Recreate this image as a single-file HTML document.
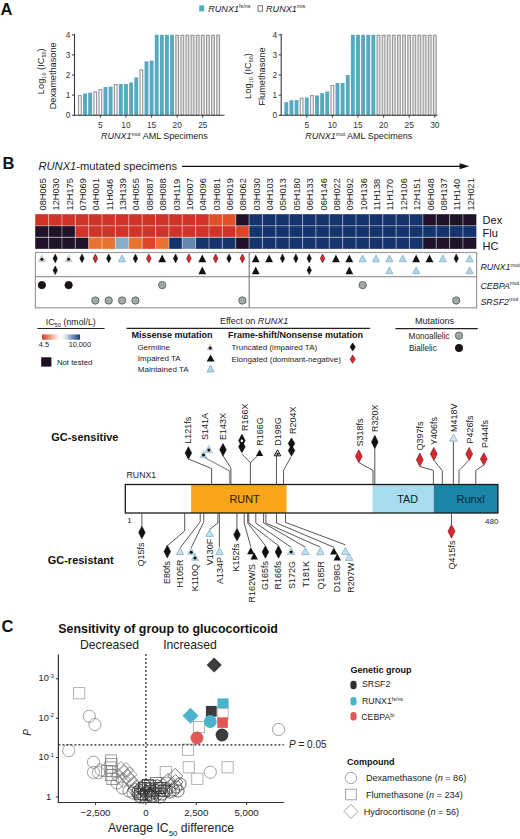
<!DOCTYPE html>
<html><head><meta charset="utf-8"><style>
html,body{margin:0;padding:0;background:#fff;width:520px;height:839px;overflow:hidden}
svg{display:block;font-family:"Liberation Sans", sans-serif}
</style></head><body>
<svg width="520" height="839" viewBox="0 0 520 839">
<text x="0.60" y="14.90" font-size="16.5" text-anchor="start" font-weight="bold" fill="#111">A</text>
<rect x="199.2" y="5.4" width="5.0" height="6.0" fill="#58a9bf"/>
<text x="208.2" y="11.9" font-size="9.1" fill="#222"><tspan font-style="italic">RUNX1</tspan><tspan font-size="5.4" dy="-3.5">fs/ns</tspan></text>
<rect x="258.0" y="5.8" width="4.6" height="5.4" fill="#fff" stroke="#555" stroke-width="0.8"/>
<text x="266.0" y="11.9" font-size="9.1" fill="#222"><tspan font-style="italic">RUNX1</tspan><tspan font-size="5.4" dy="-3.5">mis</tspan></text>
<rect x="78.55" y="95.60" width="2.7" height="19.60" fill="#fff" stroke="#9a9a9a" stroke-width="1.2"/>
<rect x="83.07" y="93.49" width="3.9" height="21.71" fill="#58a9bf"/>
<rect x="88.19" y="92.69" width="3.9" height="22.51" fill="#58a9bf"/>
<rect x="93.91" y="91.98" width="2.7" height="23.22" fill="#fff" stroke="#9a9a9a" stroke-width="1.2"/>
<rect x="99.03" y="89.57" width="2.7" height="25.63" fill="#fff" stroke="#9a9a9a" stroke-width="1.2"/>
<rect x="103.55" y="87.06" width="3.9" height="28.14" fill="#58a9bf"/>
<rect x="108.67" y="86.66" width="3.9" height="28.54" fill="#58a9bf"/>
<rect x="114.39" y="84.55" width="2.7" height="30.66" fill="#fff" stroke="#9a9a9a" stroke-width="1.2"/>
<rect x="118.91" y="84.05" width="3.9" height="31.16" fill="#58a9bf"/>
<rect x="124.03" y="84.05" width="3.9" height="31.16" fill="#58a9bf"/>
<rect x="129.15" y="82.44" width="3.9" height="32.76" fill="#58a9bf"/>
<rect x="134.27" y="77.41" width="3.9" height="37.79" fill="#58a9bf"/>
<rect x="139.99" y="69.87" width="2.7" height="45.33" fill="#fff" stroke="#9a9a9a" stroke-width="1.2"/>
<rect x="144.51" y="61.33" width="3.9" height="53.87" fill="#58a9bf"/>
<rect x="149.63" y="60.53" width="3.9" height="54.67" fill="#58a9bf"/>
<rect x="154.75" y="34.80" width="3.9" height="80.40" fill="#58a9bf"/>
<rect x="159.87" y="34.80" width="3.9" height="80.40" fill="#58a9bf"/>
<rect x="164.99" y="34.80" width="3.9" height="80.40" fill="#58a9bf"/>
<rect x="170.11" y="34.80" width="3.9" height="80.40" fill="#58a9bf"/>
<rect x="175.83" y="35.30" width="2.7" height="79.90" fill="#e4e4e4" stroke="#9a9a9a" stroke-width="1.2"/>
<rect x="180.95" y="35.30" width="2.7" height="79.90" fill="#e4e4e4" stroke="#9a9a9a" stroke-width="1.2"/>
<rect x="186.07" y="35.30" width="2.7" height="79.90" fill="#e4e4e4" stroke="#9a9a9a" stroke-width="1.2"/>
<rect x="191.19" y="35.30" width="2.7" height="79.90" fill="#e4e4e4" stroke="#9a9a9a" stroke-width="1.2"/>
<rect x="196.31" y="35.30" width="2.7" height="79.90" fill="#e4e4e4" stroke="#9a9a9a" stroke-width="1.2"/>
<rect x="201.43" y="35.30" width="2.7" height="79.90" fill="#e4e4e4" stroke="#9a9a9a" stroke-width="1.2"/>
<rect x="206.55" y="35.30" width="2.7" height="79.90" fill="#e4e4e4" stroke="#9a9a9a" stroke-width="1.2"/>
<rect x="211.67" y="35.30" width="2.7" height="79.90" fill="#e4e4e4" stroke="#9a9a9a" stroke-width="1.2"/>
<rect x="216.79" y="35.30" width="2.7" height="79.90" fill="#e4e4e4" stroke="#9a9a9a" stroke-width="1.2"/>
<line x1="74.5" y1="33.8" x2="74.5" y2="115.8" stroke="#3a3a3a" stroke-width="1.1"/>
<line x1="74.0" y1="115.2" x2="224.5" y2="115.2" stroke="#3a3a3a" stroke-width="1.1"/>
<line x1="72.0" y1="115.20" x2="74.5" y2="115.20" stroke="#3a3a3a" stroke-width="1"/>
<text x="70.30" y="118.20" font-size="8.3" text-anchor="end" fill="#333">0</text>
<line x1="72.0" y1="95.10" x2="74.5" y2="95.10" stroke="#3a3a3a" stroke-width="1"/>
<text x="70.30" y="98.10" font-size="8.3" text-anchor="end" fill="#333">1</text>
<line x1="72.0" y1="75.00" x2="74.5" y2="75.00" stroke="#3a3a3a" stroke-width="1"/>
<text x="70.30" y="78.00" font-size="8.3" text-anchor="end" fill="#333">2</text>
<line x1="72.0" y1="54.90" x2="74.5" y2="54.90" stroke="#3a3a3a" stroke-width="1"/>
<text x="70.30" y="57.90" font-size="8.3" text-anchor="end" fill="#333">3</text>
<line x1="72.0" y1="34.80" x2="74.5" y2="34.80" stroke="#3a3a3a" stroke-width="1"/>
<text x="70.30" y="37.80" font-size="8.3" text-anchor="end" fill="#333">4</text>
<line x1="100.38" y1="115.2" x2="100.38" y2="117.7" stroke="#3a3a3a" stroke-width="1"/>
<text x="100.38" y="127.50" font-size="8.3" text-anchor="middle" fill="#333">5</text>
<line x1="125.98" y1="115.2" x2="125.98" y2="117.7" stroke="#3a3a3a" stroke-width="1"/>
<text x="125.98" y="127.50" font-size="8.3" text-anchor="middle" fill="#333">10</text>
<line x1="151.58" y1="115.2" x2="151.58" y2="117.7" stroke="#3a3a3a" stroke-width="1"/>
<text x="151.58" y="127.50" font-size="8.3" text-anchor="middle" fill="#333">15</text>
<line x1="177.18" y1="115.2" x2="177.18" y2="117.7" stroke="#3a3a3a" stroke-width="1"/>
<text x="177.18" y="127.50" font-size="8.3" text-anchor="middle" fill="#333">20</text>
<line x1="202.78" y1="115.2" x2="202.78" y2="117.7" stroke="#3a3a3a" stroke-width="1"/>
<text x="202.78" y="127.50" font-size="8.3" text-anchor="middle" fill="#333">25</text>
<text x="43.80" y="71.20" font-size="9.3" text-anchor="middle" fill="#222" transform="rotate(-90 43.8 71.2)">Log<tspan font-size="5.5" dy="2">10</tspan><tspan dy="-2"> (IC</tspan><tspan font-size="5.5" dy="2">50</tspan><tspan dy="-2">)</tspan></text>
<text x="56.20" y="75.80" font-size="9.2" text-anchor="middle" fill="#222" transform="rotate(-90 56.2 75.8)">Dexamethasone</text>
<text x="154.40" y="139.3" font-size="9" text-anchor="middle" fill="#222"><tspan font-style="italic">RUNX1</tspan><tspan font-size="5.5" dy="-3">mut</tspan><tspan dy="3"> AML Specimens</tspan></text>
<rect x="284.35" y="102.14" width="3.9" height="13.07" fill="#58a9bf"/>
<rect x="289.47" y="100.33" width="3.9" height="14.87" fill="#58a9bf"/>
<rect x="294.59" y="100.12" width="3.9" height="15.08" fill="#58a9bf"/>
<rect x="300.31" y="98.21" width="2.7" height="16.99" fill="#fff" stroke="#9a9a9a" stroke-width="1.2"/>
<rect x="304.83" y="97.51" width="3.9" height="17.69" fill="#58a9bf"/>
<rect x="310.55" y="95.60" width="2.7" height="19.60" fill="#fff" stroke="#9a9a9a" stroke-width="1.2"/>
<rect x="315.07" y="95.50" width="3.9" height="19.70" fill="#58a9bf"/>
<rect x="320.19" y="93.09" width="3.9" height="22.11" fill="#58a9bf"/>
<rect x="325.31" y="91.48" width="3.9" height="23.72" fill="#58a9bf"/>
<rect x="331.03" y="85.55" width="2.7" height="29.65" fill="#fff" stroke="#9a9a9a" stroke-width="1.2"/>
<rect x="335.55" y="83.04" width="3.9" height="32.16" fill="#58a9bf"/>
<rect x="340.67" y="83.04" width="3.9" height="32.16" fill="#58a9bf"/>
<rect x="345.79" y="75.00" width="3.9" height="40.20" fill="#58a9bf"/>
<rect x="350.91" y="34.80" width="3.9" height="80.40" fill="#58a9bf"/>
<rect x="356.03" y="34.80" width="3.9" height="80.40" fill="#58a9bf"/>
<rect x="361.15" y="34.80" width="3.9" height="80.40" fill="#58a9bf"/>
<rect x="366.27" y="34.80" width="3.9" height="80.40" fill="#58a9bf"/>
<rect x="371.39" y="34.80" width="3.9" height="80.40" fill="#58a9bf"/>
<rect x="377.11" y="35.30" width="2.7" height="79.90" fill="#e4e4e4" stroke="#9a9a9a" stroke-width="1.2"/>
<rect x="382.23" y="35.30" width="2.7" height="79.90" fill="#e4e4e4" stroke="#9a9a9a" stroke-width="1.2"/>
<rect x="387.35" y="35.30" width="2.7" height="79.90" fill="#e4e4e4" stroke="#9a9a9a" stroke-width="1.2"/>
<rect x="392.47" y="35.30" width="2.7" height="79.90" fill="#e4e4e4" stroke="#9a9a9a" stroke-width="1.2"/>
<rect x="397.59" y="35.30" width="2.7" height="79.90" fill="#e4e4e4" stroke="#9a9a9a" stroke-width="1.2"/>
<rect x="402.71" y="35.30" width="2.7" height="79.90" fill="#e4e4e4" stroke="#9a9a9a" stroke-width="1.2"/>
<rect x="407.83" y="35.30" width="2.7" height="79.90" fill="#e4e4e4" stroke="#9a9a9a" stroke-width="1.2"/>
<rect x="412.95" y="35.30" width="2.7" height="79.90" fill="#e4e4e4" stroke="#9a9a9a" stroke-width="1.2"/>
<rect x="418.07" y="35.30" width="2.7" height="79.90" fill="#e4e4e4" stroke="#9a9a9a" stroke-width="1.2"/>
<rect x="423.19" y="35.30" width="2.7" height="79.90" fill="#e4e4e4" stroke="#9a9a9a" stroke-width="1.2"/>
<rect x="428.31" y="35.30" width="2.7" height="79.90" fill="#e4e4e4" stroke="#9a9a9a" stroke-width="1.2"/>
<rect x="433.43" y="35.30" width="2.7" height="79.90" fill="#e4e4e4" stroke="#9a9a9a" stroke-width="1.2"/>
<line x1="281.2" y1="33.8" x2="281.2" y2="115.8" stroke="#3a3a3a" stroke-width="1.1"/>
<line x1="280.7" y1="115.2" x2="437.5" y2="115.2" stroke="#3a3a3a" stroke-width="1.1"/>
<line x1="278.7" y1="115.20" x2="281.2" y2="115.20" stroke="#3a3a3a" stroke-width="1"/>
<text x="277.00" y="118.20" font-size="8.3" text-anchor="end" fill="#333">0</text>
<line x1="278.7" y1="95.10" x2="281.2" y2="95.10" stroke="#3a3a3a" stroke-width="1"/>
<text x="277.00" y="98.10" font-size="8.3" text-anchor="end" fill="#333">1</text>
<line x1="278.7" y1="75.00" x2="281.2" y2="75.00" stroke="#3a3a3a" stroke-width="1"/>
<text x="277.00" y="78.00" font-size="8.3" text-anchor="end" fill="#333">2</text>
<line x1="278.7" y1="54.90" x2="281.2" y2="54.90" stroke="#3a3a3a" stroke-width="1"/>
<text x="277.00" y="57.90" font-size="8.3" text-anchor="end" fill="#333">3</text>
<line x1="278.7" y1="34.80" x2="281.2" y2="34.80" stroke="#3a3a3a" stroke-width="1"/>
<text x="277.00" y="37.80" font-size="8.3" text-anchor="end" fill="#333">4</text>
<line x1="306.78" y1="115.2" x2="306.78" y2="117.7" stroke="#3a3a3a" stroke-width="1"/>
<text x="306.78" y="127.50" font-size="8.3" text-anchor="middle" fill="#333">5</text>
<line x1="332.38" y1="115.2" x2="332.38" y2="117.7" stroke="#3a3a3a" stroke-width="1"/>
<text x="332.38" y="127.50" font-size="8.3" text-anchor="middle" fill="#333">10</text>
<line x1="357.98" y1="115.2" x2="357.98" y2="117.7" stroke="#3a3a3a" stroke-width="1"/>
<text x="357.98" y="127.50" font-size="8.3" text-anchor="middle" fill="#333">15</text>
<line x1="383.58" y1="115.2" x2="383.58" y2="117.7" stroke="#3a3a3a" stroke-width="1"/>
<text x="383.58" y="127.50" font-size="8.3" text-anchor="middle" fill="#333">20</text>
<line x1="409.18" y1="115.2" x2="409.18" y2="117.7" stroke="#3a3a3a" stroke-width="1"/>
<text x="409.18" y="127.50" font-size="8.3" text-anchor="middle" fill="#333">25</text>
<line x1="434.78" y1="115.2" x2="434.78" y2="117.7" stroke="#3a3a3a" stroke-width="1"/>
<text x="434.78" y="127.50" font-size="8.3" text-anchor="middle" fill="#333">30</text>
<text x="251.00" y="76.00" font-size="9.3" text-anchor="middle" fill="#222" transform="rotate(-90 251.0 76.0)">Log<tspan font-size="5.5" dy="2">10</tspan><tspan dy="-2"> (IC</tspan><tspan font-size="5.5" dy="2">50</tspan><tspan dy="-2">)</tspan></text>
<text x="264.60" y="76.50" font-size="9.2" text-anchor="middle" fill="#222" transform="rotate(-90 264.6 76.5)">Flumethasone</text>
<text x="358.80" y="139.3" font-size="9" text-anchor="middle" fill="#222"><tspan font-style="italic">RUNX1</tspan><tspan font-size="5.5" dy="-3">mut</tspan><tspan dy="3"> AML Specimens</tspan></text>
<text x="2.40" y="168.60" font-size="16.5" text-anchor="start" font-weight="bold" fill="#111">B</text>
<text x="38.4" y="169.6" font-size="11.2" fill="#222"><tspan font-style="italic">RUNX1</tspan>-mutated specimens</text>
<line x1="182" y1="166.3" x2="462" y2="166.3" stroke="#111" stroke-width="1.2"/>
<path d="M459.6 163.3 L469.2 166.3 L459.6 169.3 Z" fill="#111"/>
<rect x="35.20" y="214.20" width="13.42" height="11.65" fill="#d03428"/>
<rect x="48.57" y="214.20" width="13.42" height="11.65" fill="#d03428"/>
<rect x="61.93" y="214.20" width="13.42" height="11.65" fill="#d03428"/>
<rect x="75.30" y="214.20" width="13.42" height="11.65" fill="#d03428"/>
<rect x="88.67" y="214.20" width="13.42" height="11.65" fill="#d03428"/>
<rect x="102.03" y="214.20" width="13.42" height="11.65" fill="#d03428"/>
<rect x="115.40" y="214.20" width="13.42" height="11.65" fill="#d03428"/>
<rect x="128.77" y="214.20" width="13.42" height="11.65" fill="#d03428"/>
<rect x="142.13" y="214.20" width="13.42" height="11.65" fill="#d03428"/>
<rect x="155.50" y="214.20" width="13.42" height="11.65" fill="#d03428"/>
<rect x="168.87" y="214.20" width="13.42" height="11.65" fill="#d03428"/>
<rect x="182.23" y="214.20" width="13.42" height="11.65" fill="#d03428"/>
<rect x="195.60" y="214.20" width="13.42" height="11.65" fill="#d03428"/>
<rect x="208.97" y="214.20" width="13.42" height="11.65" fill="#e34f2a"/>
<rect x="222.33" y="214.20" width="13.42" height="11.65" fill="#e34f2a"/>
<rect x="235.70" y="214.20" width="13.42" height="11.65" fill="#1f1229"/>
<rect x="249.07" y="214.20" width="13.42" height="11.65" fill="#15346d"/>
<rect x="262.43" y="214.20" width="13.42" height="11.65" fill="#15346d"/>
<rect x="275.80" y="214.20" width="13.42" height="11.65" fill="#15346d"/>
<rect x="289.17" y="214.20" width="13.42" height="11.65" fill="#15346d"/>
<rect x="302.53" y="214.20" width="13.42" height="11.65" fill="#15346d"/>
<rect x="315.90" y="214.20" width="13.42" height="11.65" fill="#15346d"/>
<rect x="329.27" y="214.20" width="13.42" height="11.65" fill="#15346d"/>
<rect x="342.63" y="214.20" width="13.42" height="11.65" fill="#15346d"/>
<rect x="356.00" y="214.20" width="13.42" height="11.65" fill="#15346d"/>
<rect x="369.37" y="214.20" width="13.42" height="11.65" fill="#15346d"/>
<rect x="382.73" y="214.20" width="13.42" height="11.65" fill="#15346d"/>
<rect x="396.10" y="214.20" width="13.42" height="11.65" fill="#15346d"/>
<rect x="409.47" y="214.20" width="13.42" height="11.65" fill="#15346d"/>
<rect x="422.83" y="214.20" width="13.42" height="11.65" fill="#1f1229"/>
<rect x="436.20" y="214.20" width="13.42" height="11.65" fill="#1f1229"/>
<rect x="449.57" y="214.20" width="13.42" height="11.65" fill="#1f1229"/>
<rect x="462.93" y="214.20" width="13.42" height="11.65" fill="#1f1229"/>
<rect x="35.20" y="225.80" width="13.42" height="11.65" fill="#1f1229"/>
<rect x="48.57" y="225.80" width="13.42" height="11.65" fill="#1f1229"/>
<rect x="61.93" y="225.80" width="13.42" height="11.65" fill="#1f1229"/>
<rect x="75.30" y="225.80" width="13.42" height="11.65" fill="#d03428"/>
<rect x="88.67" y="225.80" width="13.42" height="11.65" fill="#d03428"/>
<rect x="102.03" y="225.80" width="13.42" height="11.65" fill="#d03428"/>
<rect x="115.40" y="225.80" width="13.42" height="11.65" fill="#d03428"/>
<rect x="128.77" y="225.80" width="13.42" height="11.65" fill="#d03428"/>
<rect x="142.13" y="225.80" width="13.42" height="11.65" fill="#d03428"/>
<rect x="155.50" y="225.80" width="13.42" height="11.65" fill="#d03428"/>
<rect x="168.87" y="225.80" width="13.42" height="11.65" fill="#d03428"/>
<rect x="182.23" y="225.80" width="13.42" height="11.65" fill="#d03428"/>
<rect x="195.60" y="225.80" width="13.42" height="11.65" fill="#d03428"/>
<rect x="208.97" y="225.80" width="13.42" height="11.65" fill="#d03428"/>
<rect x="222.33" y="225.80" width="13.42" height="11.65" fill="#d03428"/>
<rect x="235.70" y="225.80" width="13.42" height="11.65" fill="#dd4527"/>
<rect x="249.07" y="225.80" width="13.42" height="11.65" fill="#15346d"/>
<rect x="262.43" y="225.80" width="13.42" height="11.65" fill="#15346d"/>
<rect x="275.80" y="225.80" width="13.42" height="11.65" fill="#15346d"/>
<rect x="289.17" y="225.80" width="13.42" height="11.65" fill="#15346d"/>
<rect x="302.53" y="225.80" width="13.42" height="11.65" fill="#15346d"/>
<rect x="315.90" y="225.80" width="13.42" height="11.65" fill="#15346d"/>
<rect x="329.27" y="225.80" width="13.42" height="11.65" fill="#15346d"/>
<rect x="342.63" y="225.80" width="13.42" height="11.65" fill="#15346d"/>
<rect x="356.00" y="225.80" width="13.42" height="11.65" fill="#15346d"/>
<rect x="369.37" y="225.80" width="13.42" height="11.65" fill="#15346d"/>
<rect x="382.73" y="225.80" width="13.42" height="11.65" fill="#15346d"/>
<rect x="396.10" y="225.80" width="13.42" height="11.65" fill="#15346d"/>
<rect x="409.47" y="225.80" width="13.42" height="11.65" fill="#15346d"/>
<rect x="422.83" y="225.80" width="13.42" height="11.65" fill="#15346d"/>
<rect x="436.20" y="225.80" width="13.42" height="11.65" fill="#15346d"/>
<rect x="449.57" y="225.80" width="13.42" height="11.65" fill="#15346d"/>
<rect x="462.93" y="225.80" width="13.42" height="11.65" fill="#15346d"/>
<rect x="35.20" y="237.40" width="13.42" height="11.45" fill="#1f1229"/>
<rect x="48.57" y="237.40" width="13.42" height="11.45" fill="#1f1229"/>
<rect x="61.93" y="237.40" width="13.42" height="11.45" fill="#1f1229"/>
<rect x="75.30" y="237.40" width="13.42" height="11.45" fill="#1f1229"/>
<rect x="88.67" y="237.40" width="13.42" height="11.45" fill="#e8722f"/>
<rect x="102.03" y="237.40" width="13.42" height="11.45" fill="#e8722f"/>
<rect x="115.40" y="237.40" width="13.42" height="11.45" fill="#86aecb"/>
<rect x="128.77" y="237.40" width="13.42" height="11.45" fill="#e8722f"/>
<rect x="142.13" y="237.40" width="13.42" height="11.45" fill="#dd4527"/>
<rect x="155.50" y="237.40" width="13.42" height="11.45" fill="#e8722f"/>
<rect x="168.87" y="237.40" width="13.42" height="11.45" fill="#15346d"/>
<rect x="182.23" y="237.40" width="13.42" height="11.45" fill="#6489b0"/>
<rect x="195.60" y="237.40" width="13.42" height="11.45" fill="#15346d"/>
<rect x="208.97" y="237.40" width="13.42" height="11.45" fill="#15346d"/>
<rect x="222.33" y="237.40" width="13.42" height="11.45" fill="#15346d"/>
<rect x="235.70" y="237.40" width="13.42" height="11.45" fill="#1f1229"/>
<rect x="249.07" y="237.40" width="13.42" height="11.45" fill="#15346d"/>
<rect x="262.43" y="237.40" width="13.42" height="11.45" fill="#15346d"/>
<rect x="275.80" y="237.40" width="13.42" height="11.45" fill="#15346d"/>
<rect x="289.17" y="237.40" width="13.42" height="11.45" fill="#15346d"/>
<rect x="302.53" y="237.40" width="13.42" height="11.45" fill="#15346d"/>
<rect x="315.90" y="237.40" width="13.42" height="11.45" fill="#15346d"/>
<rect x="329.27" y="237.40" width="13.42" height="11.45" fill="#15346d"/>
<rect x="342.63" y="237.40" width="13.42" height="11.45" fill="#15346d"/>
<rect x="356.00" y="237.40" width="13.42" height="11.45" fill="#15346d"/>
<rect x="369.37" y="237.40" width="13.42" height="11.45" fill="#15346d"/>
<rect x="382.73" y="237.40" width="13.42" height="11.45" fill="#15346d"/>
<rect x="396.10" y="237.40" width="13.42" height="11.45" fill="#15346d"/>
<rect x="409.47" y="237.40" width="13.42" height="11.45" fill="#15346d"/>
<rect x="422.83" y="237.40" width="13.42" height="11.45" fill="#1f1229"/>
<rect x="436.20" y="237.40" width="13.42" height="11.45" fill="#1f1229"/>
<rect x="449.57" y="237.40" width="13.42" height="11.45" fill="#1f1229"/>
<rect x="462.93" y="237.40" width="13.42" height="11.45" fill="#1f1229"/>
<line x1="48.57" y1="214.2" x2="48.57" y2="248.8" stroke="#fff" stroke-opacity="0.42" stroke-width="1.1"/>
<line x1="61.93" y1="214.2" x2="61.93" y2="248.8" stroke="#fff" stroke-opacity="0.42" stroke-width="1.1"/>
<line x1="75.30" y1="214.2" x2="75.30" y2="248.8" stroke="#fff" stroke-opacity="0.42" stroke-width="1.1"/>
<line x1="88.67" y1="214.2" x2="88.67" y2="248.8" stroke="#fff" stroke-opacity="0.42" stroke-width="1.1"/>
<line x1="102.03" y1="214.2" x2="102.03" y2="248.8" stroke="#fff" stroke-opacity="0.42" stroke-width="1.1"/>
<line x1="115.40" y1="214.2" x2="115.40" y2="248.8" stroke="#fff" stroke-opacity="0.42" stroke-width="1.1"/>
<line x1="128.77" y1="214.2" x2="128.77" y2="248.8" stroke="#fff" stroke-opacity="0.42" stroke-width="1.1"/>
<line x1="142.13" y1="214.2" x2="142.13" y2="248.8" stroke="#fff" stroke-opacity="0.42" stroke-width="1.1"/>
<line x1="155.50" y1="214.2" x2="155.50" y2="248.8" stroke="#fff" stroke-opacity="0.42" stroke-width="1.1"/>
<line x1="168.87" y1="214.2" x2="168.87" y2="248.8" stroke="#fff" stroke-opacity="0.42" stroke-width="1.1"/>
<line x1="182.23" y1="214.2" x2="182.23" y2="248.8" stroke="#fff" stroke-opacity="0.42" stroke-width="1.1"/>
<line x1="195.60" y1="214.2" x2="195.60" y2="248.8" stroke="#fff" stroke-opacity="0.42" stroke-width="1.1"/>
<line x1="208.97" y1="214.2" x2="208.97" y2="248.8" stroke="#fff" stroke-opacity="0.42" stroke-width="1.1"/>
<line x1="222.33" y1="214.2" x2="222.33" y2="248.8" stroke="#fff" stroke-opacity="0.42" stroke-width="1.1"/>
<line x1="235.70" y1="214.2" x2="235.70" y2="248.8" stroke="#fff" stroke-opacity="0.42" stroke-width="1.1"/>
<line x1="249.07" y1="214.2" x2="249.07" y2="248.8" stroke="#fff" stroke-opacity="0.42" stroke-width="1.1"/>
<line x1="262.43" y1="214.2" x2="262.43" y2="248.8" stroke="#fff" stroke-opacity="0.42" stroke-width="1.1"/>
<line x1="275.80" y1="214.2" x2="275.80" y2="248.8" stroke="#fff" stroke-opacity="0.42" stroke-width="1.1"/>
<line x1="289.17" y1="214.2" x2="289.17" y2="248.8" stroke="#fff" stroke-opacity="0.42" stroke-width="1.1"/>
<line x1="302.53" y1="214.2" x2="302.53" y2="248.8" stroke="#fff" stroke-opacity="0.42" stroke-width="1.1"/>
<line x1="315.90" y1="214.2" x2="315.90" y2="248.8" stroke="#fff" stroke-opacity="0.42" stroke-width="1.1"/>
<line x1="329.27" y1="214.2" x2="329.27" y2="248.8" stroke="#fff" stroke-opacity="0.42" stroke-width="1.1"/>
<line x1="342.63" y1="214.2" x2="342.63" y2="248.8" stroke="#fff" stroke-opacity="0.42" stroke-width="1.1"/>
<line x1="356.00" y1="214.2" x2="356.00" y2="248.8" stroke="#fff" stroke-opacity="0.42" stroke-width="1.1"/>
<line x1="369.37" y1="214.2" x2="369.37" y2="248.8" stroke="#fff" stroke-opacity="0.42" stroke-width="1.1"/>
<line x1="382.73" y1="214.2" x2="382.73" y2="248.8" stroke="#fff" stroke-opacity="0.42" stroke-width="1.1"/>
<line x1="396.10" y1="214.2" x2="396.10" y2="248.8" stroke="#fff" stroke-opacity="0.42" stroke-width="1.1"/>
<line x1="409.47" y1="214.2" x2="409.47" y2="248.8" stroke="#fff" stroke-opacity="0.42" stroke-width="1.1"/>
<line x1="422.83" y1="214.2" x2="422.83" y2="248.8" stroke="#fff" stroke-opacity="0.42" stroke-width="1.1"/>
<line x1="436.20" y1="214.2" x2="436.20" y2="248.8" stroke="#fff" stroke-opacity="0.42" stroke-width="1.1"/>
<line x1="449.57" y1="214.2" x2="449.57" y2="248.8" stroke="#fff" stroke-opacity="0.42" stroke-width="1.1"/>
<line x1="462.93" y1="214.2" x2="462.93" y2="248.8" stroke="#fff" stroke-opacity="0.42" stroke-width="1.1"/>
<line x1="35.2" y1="225.8" x2="476.30" y2="225.8" stroke="#fff" stroke-opacity="0.42" stroke-width="1.1"/>
<line x1="35.2" y1="237.4" x2="476.30" y2="237.4" stroke="#fff" stroke-opacity="0.42" stroke-width="1.1"/>
<text x="45.88" y="210.40" font-size="9.2" text-anchor="start" fill="#222" transform="rotate(-90 45.88333333333334 210.4)">08H065</text>
<text x="59.25" y="210.40" font-size="9.2" text-anchor="start" fill="#222" transform="rotate(-90 59.25 210.4)">12H030</text>
<text x="72.62" y="210.40" font-size="9.2" text-anchor="start" fill="#222" transform="rotate(-90 72.61666666666667 210.4)">12H175</text>
<text x="85.98" y="210.40" font-size="9.2" text-anchor="start" fill="#222" transform="rotate(-90 85.98333333333333 210.4)">07H069</text>
<text x="99.35" y="210.40" font-size="9.2" text-anchor="start" fill="#222" transform="rotate(-90 99.35000000000001 210.4)">04H001</text>
<text x="112.72" y="210.40" font-size="9.2" text-anchor="start" fill="#222" transform="rotate(-90 112.71666666666667 210.4)">11H046</text>
<text x="126.08" y="210.40" font-size="9.2" text-anchor="start" fill="#222" transform="rotate(-90 126.08333333333334 210.4)">13H139</text>
<text x="139.45" y="210.40" font-size="9.2" text-anchor="start" fill="#222" transform="rotate(-90 139.45 210.4)">04H055</text>
<text x="152.82" y="210.40" font-size="9.2" text-anchor="start" fill="#222" transform="rotate(-90 152.81666666666666 210.4)">08H087</text>
<text x="166.18" y="210.40" font-size="9.2" text-anchor="start" fill="#222" transform="rotate(-90 166.18333333333334 210.4)">08H088</text>
<text x="179.55" y="210.40" font-size="9.2" text-anchor="start" fill="#222" transform="rotate(-90 179.55 210.4)">03H119</text>
<text x="192.92" y="210.40" font-size="9.2" text-anchor="start" fill="#222" transform="rotate(-90 192.91666666666669 210.4)">10H007</text>
<text x="206.28" y="210.40" font-size="9.2" text-anchor="start" fill="#222" transform="rotate(-90 206.28333333333336 210.4)">04H096</text>
<text x="219.65" y="210.40" font-size="9.2" text-anchor="start" fill="#222" transform="rotate(-90 219.65000000000003 210.4)">03H081</text>
<text x="233.02" y="210.40" font-size="9.2" text-anchor="start" fill="#222" transform="rotate(-90 233.01666666666665 210.4)">06H019</text>
<text x="246.38" y="210.40" font-size="9.2" text-anchor="start" fill="#222" transform="rotate(-90 246.38333333333333 210.4)">08H062</text>
<text x="259.75" y="210.40" font-size="9.2" text-anchor="start" fill="#222" transform="rotate(-90 259.75 210.4)">03H030</text>
<text x="273.12" y="210.40" font-size="9.2" text-anchor="start" fill="#222" transform="rotate(-90 273.1166666666667 210.4)">04H103</text>
<text x="286.48" y="210.40" font-size="9.2" text-anchor="start" fill="#222" transform="rotate(-90 286.48333333333335 210.4)">05H013</text>
<text x="299.85" y="210.40" font-size="9.2" text-anchor="start" fill="#222" transform="rotate(-90 299.85 210.4)">05H180</text>
<text x="313.22" y="210.40" font-size="9.2" text-anchor="start" fill="#222" transform="rotate(-90 313.21666666666664 210.4)">06H133</text>
<text x="326.58" y="210.40" font-size="9.2" text-anchor="start" fill="#222" transform="rotate(-90 326.5833333333333 210.4)">06H146</text>
<text x="339.95" y="210.40" font-size="9.2" text-anchor="start" fill="#222" transform="rotate(-90 339.95 210.4)">08H022</text>
<text x="353.32" y="210.40" font-size="9.2" text-anchor="start" fill="#222" transform="rotate(-90 353.31666666666666 210.4)">09H092</text>
<text x="366.68" y="210.40" font-size="9.2" text-anchor="start" fill="#222" transform="rotate(-90 366.68333333333334 210.4)">10H136</text>
<text x="380.05" y="210.40" font-size="9.2" text-anchor="start" fill="#222" transform="rotate(-90 380.05 210.4)">11H138</text>
<text x="393.42" y="210.40" font-size="9.2" text-anchor="start" fill="#222" transform="rotate(-90 393.4166666666667 210.4)">11H170</text>
<text x="406.78" y="210.40" font-size="9.2" text-anchor="start" fill="#222" transform="rotate(-90 406.78333333333336 210.4)">12H106</text>
<text x="420.15" y="210.40" font-size="9.2" text-anchor="start" fill="#222" transform="rotate(-90 420.15 210.4)">12H151</text>
<text x="433.52" y="210.40" font-size="9.2" text-anchor="start" fill="#222" transform="rotate(-90 433.51666666666665 210.4)">06H048</text>
<text x="446.88" y="210.40" font-size="9.2" text-anchor="start" fill="#222" transform="rotate(-90 446.8833333333333 210.4)">08H137</text>
<text x="460.25" y="210.40" font-size="9.2" text-anchor="start" fill="#222" transform="rotate(-90 460.25 210.4)">11H140</text>
<text x="473.62" y="210.40" font-size="9.2" text-anchor="start" fill="#222" transform="rotate(-90 473.6166666666667 210.4)">12H021</text>
<text x="482.60" y="223.60" font-size="11" text-anchor="start" fill="#111">Dex</text>
<text x="482.60" y="237.30" font-size="11" text-anchor="start" fill="#111">Flu</text>
<text x="482.60" y="249.50" font-size="11" text-anchor="start" fill="#111">HC</text>
<rect x="35.4" y="252.5" width="441.20000000000005" height="55.3" fill="none" stroke="#9a9a9a" stroke-width="1.2"/>
<line x1="35.4" y1="276.7" x2="476.6" y2="276.7" stroke="#9a9a9a" stroke-width="1.3"/>
<line x1="249.2" y1="252.8" x2="249.2" y2="307.8" stroke="#777" stroke-width="1.1"/>
<path d="M41.88 255.15 L45.13 261.65 L38.63 261.65 Z" fill="#e8e8e8" stroke="#aaa" stroke-width="0.7"/>
<circle cx="41.88" cy="259.30" r="1.5" fill="#111"/>
<path d="M55.25 254.10 L57.35 258.40 L55.25 262.70 L53.15 258.40 Z" fill="#111" stroke="#111" stroke-width="0.6"/>
<path d="M68.62 255.15 L71.87 261.65 L65.37 261.65 Z" fill="#e8e8e8" stroke="#aaa" stroke-width="0.7"/>
<circle cx="68.62" cy="259.30" r="1.5" fill="#111"/>
<path d="M81.98 254.10 L84.08 258.40 L81.98 262.70 L79.88 258.40 Z" fill="#111" stroke="#111" stroke-width="0.6"/>
<path d="M95.35 254.00 L97.65 258.40 L95.35 262.80 L93.05 258.40 Z" fill="#d9262f" stroke="#5a1010" stroke-width="0.6"/>
<path d="M108.72 254.10 L110.82 258.40 L108.72 262.70 L106.62 258.40 Z" fill="#111" stroke="#111" stroke-width="0.6"/>
<path d="M122.08 255.00 L125.68 261.80 L118.48 261.80 Z" fill="#b3d5e6" stroke="#7fb0c8" stroke-width="0.8"/>
<path d="M135.45 254.10 L137.55 258.40 L135.45 262.70 L133.35 258.40 Z" fill="#111" stroke="#111" stroke-width="0.6"/>
<path d="M148.82 254.00 L151.12 258.40 L148.82 262.80 L146.52 258.40 Z" fill="#d9262f" stroke="#5a1010" stroke-width="0.6"/>
<path d="M162.18 254.55 L166.08 262.25 L158.28 262.25 Z" fill="#111"/>
<path d="M175.55 254.10 L177.65 258.40 L175.55 262.70 L173.45 258.40 Z" fill="#111" stroke="#111" stroke-width="0.6"/>
<path d="M188.92 254.00 L191.22 258.40 L188.92 262.80 L186.62 258.40 Z" fill="#d9262f" stroke="#5a1010" stroke-width="0.6"/>
<path d="M202.28 254.55 L206.18 262.25 L198.38 262.25 Z" fill="#111"/>
<path d="M215.65 254.00 L217.95 258.40 L215.65 262.80 L213.35 258.40 Z" fill="#d9262f" stroke="#5a1010" stroke-width="0.6"/>
<path d="M229.02 254.10 L231.12 258.40 L229.02 262.70 L226.92 258.40 Z" fill="#111" stroke="#111" stroke-width="0.6"/>
<path d="M242.38 254.00 L244.68 258.40 L242.38 262.80 L240.08 258.40 Z" fill="#d9262f" stroke="#5a1010" stroke-width="0.6"/>
<path d="M255.75 254.55 L259.65 262.25 L251.85 262.25 Z" fill="#111"/>
<path d="M269.12 254.55 L273.02 262.25 L265.22 262.25 Z" fill="#111"/>
<path d="M282.48 254.10 L284.58 258.40 L282.48 262.70 L280.38 258.40 Z" fill="#111" stroke="#111" stroke-width="0.6"/>
<path d="M295.85 254.10 L297.95 258.40 L295.85 262.70 L293.75 258.40 Z" fill="#111" stroke="#111" stroke-width="0.6"/>
<path d="M309.22 254.10 L311.32 258.40 L309.22 262.70 L307.12 258.40 Z" fill="#111" stroke="#111" stroke-width="0.6"/>
<path d="M322.58 254.00 L324.88 258.40 L322.58 262.80 L320.28 258.40 Z" fill="#d9262f" stroke="#5a1010" stroke-width="0.6"/>
<path d="M335.95 254.55 L339.85 262.25 L332.05 262.25 Z" fill="#111"/>
<path d="M349.32 254.55 L353.22 262.25 L345.42 262.25 Z" fill="#111"/>
<path d="M362.68 255.00 L366.28 261.80 L359.08 261.80 Z" fill="#b3d5e6" stroke="#7fb0c8" stroke-width="0.8"/>
<path d="M376.05 255.00 L379.65 261.80 L372.45 261.80 Z" fill="#b3d5e6" stroke="#7fb0c8" stroke-width="0.8"/>
<path d="M389.42 255.00 L393.02 261.80 L385.82 261.80 Z" fill="#b3d5e6" stroke="#7fb0c8" stroke-width="0.8"/>
<path d="M402.78 255.00 L406.38 261.80 L399.18 261.80 Z" fill="#b3d5e6" stroke="#7fb0c8" stroke-width="0.8"/>
<path d="M416.15 254.55 L420.05 262.25 L412.25 262.25 Z" fill="#111"/>
<path d="M429.52 254.55 L433.42 262.25 L425.62 262.25 Z" fill="#111"/>
<path d="M442.88 255.00 L446.48 261.80 L439.28 261.80 Z" fill="#b3d5e6" stroke="#7fb0c8" stroke-width="0.8"/>
<path d="M456.25 254.10 L458.35 258.40 L456.25 262.70 L454.15 258.40 Z" fill="#111" stroke="#111" stroke-width="0.6"/>
<path d="M469.62 255.00 L473.22 261.80 L466.02 261.80 Z" fill="#b3d5e6" stroke="#7fb0c8" stroke-width="0.8"/>
<path d="M55.25 266.00 L57.35 270.30 L55.25 274.60 L53.15 270.30 Z" fill="#111" stroke="#111" stroke-width="0.6"/>
<path d="M202.28 266.45 L206.18 274.15 L198.38 274.15 Z" fill="#111"/>
<path d="M255.75 266.45 L259.65 274.15 L251.85 274.15 Z" fill="#111"/>
<path d="M309.22 266.00 L311.32 270.30 L309.22 274.60 L307.12 270.30 Z" fill="#111" stroke="#111" stroke-width="0.6"/>
<path d="M349.32 266.45 L353.22 274.15 L345.42 274.15 Z" fill="#111"/>
<path d="M389.42 266.90 L393.02 273.70 L385.82 273.70 Z" fill="#b3d5e6" stroke="#7fb0c8" stroke-width="0.8"/>
<path d="M416.15 266.90 L419.75 273.70 L412.55 273.70 Z" fill="#b3d5e6" stroke="#7fb0c8" stroke-width="0.8"/>
<path d="M469.62 266.90 L473.22 273.70 L466.02 273.70 Z" fill="#b3d5e6" stroke="#7fb0c8" stroke-width="0.8"/>
<circle cx="41.88" cy="285.10" r="3.7" fill="#1a1218" stroke="#111" stroke-width="0.8"/>
<circle cx="68.62" cy="285.10" r="3.7" fill="#1a1218" stroke="#111" stroke-width="0.8"/>
<circle cx="162.18" cy="285.10" r="3.7" fill="#9eaaa6" stroke="#555" stroke-width="0.8"/>
<circle cx="362.68" cy="285.10" r="3.7" fill="#9eaaa6" stroke="#555" stroke-width="0.8"/>
<circle cx="95.35" cy="300.50" r="3.7" fill="#9eaaa6" stroke="#555" stroke-width="0.8"/>
<circle cx="108.72" cy="300.50" r="3.7" fill="#9eaaa6" stroke="#555" stroke-width="0.8"/>
<circle cx="122.08" cy="300.50" r="3.7" fill="#9eaaa6" stroke="#555" stroke-width="0.8"/>
<circle cx="135.45" cy="300.50" r="3.7" fill="#9eaaa6" stroke="#555" stroke-width="0.8"/>
<circle cx="242.38" cy="300.50" r="3.7" fill="#9eaaa6" stroke="#555" stroke-width="0.8"/>
<circle cx="456.25" cy="300.50" r="3.7" fill="#9eaaa6" stroke="#555" stroke-width="0.8"/>
<text x="480.4" y="270.3" font-size="8.9" font-style="italic" fill="#222">RUNX1<tspan font-size="5.6" dy="-3.6" font-style="normal">mut</tspan></text>
<text x="480.4" y="288.6" font-size="8.9" font-style="italic" fill="#222">CEBPA<tspan font-size="5.6" dy="-3.6" font-style="normal">mut</tspan></text>
<text x="480.4" y="304.6" font-size="8.9" font-style="italic" fill="#222">SRSF2<tspan font-size="5.6" dy="-3.6" font-style="normal">mut</tspan></text>
<text x="70.8" y="324.6" font-size="8.8" text-anchor="middle" fill="#222">IC<tspan font-size="5.8" dy="2.2">50</tspan><tspan dy="-2.2"> (nmol/L)</tspan></text>
<line x1="37.4" y1="328.5" x2="104.6" y2="328.5" stroke="#222" stroke-width="1.2"/>
<defs><linearGradient id="g1" x1="0" x2="1" y1="0" y2="0"><stop offset="0" stop-color="#d33a22"/><stop offset="0.18" stop-color="#ea8a70"/><stop offset="0.4" stop-color="#fde6dc"/><stop offset="0.5" stop-color="#ffffff"/><stop offset="0.62" stop-color="#d9e4f0"/><stop offset="0.8" stop-color="#6f91bd"/><stop offset="1" stop-color="#1a3f78"/></linearGradient></defs>
<rect x="42" y="334.4" width="38" height="5.3" fill="url(#g1)"/>
<text x="38.80" y="347.40" font-size="7.3" text-anchor="start" fill="#222">4.5</text>
<text x="91.00" y="347.40" font-size="7.3" text-anchor="end" fill="#222">10,000</text>
<rect x="41.2" y="357.3" width="10.2" height="9.3" fill="#1e1020"/>
<text x="56.90" y="364.90" font-size="7.8" text-anchor="start" fill="#222">Not tested</text>
<text x="220" y="324.2" font-size="9" fill="#222">Effect on <tspan font-style="italic">RUNX1</tspan></text>
<line x1="126.5" y1="328.4" x2="370" y2="328.4" stroke="#222" stroke-width="1.2"/>
<text x="131.50" y="337.90" font-size="9" text-anchor="start" font-weight="bold" fill="#111">Missense mutation</text>
<text x="228.00" y="337.90" font-size="9" text-anchor="start" font-weight="bold" fill="#111">Frame-shift/Nonsense mutation</text>
<text x="137.40" y="350.00" font-size="8" text-anchor="start" fill="#222">Germline</text>
<text x="137.80" y="361.20" font-size="8" text-anchor="start" fill="#222">Impaired TA</text>
<text x="137.80" y="371.80" font-size="8" text-anchor="start" fill="#222">Maintained TA</text>
<text x="231.50" y="350.00" font-size="8" text-anchor="start" fill="#222">Truncated (impaired TA)</text>
<text x="231.50" y="362.20" font-size="8" text-anchor="start" fill="#222">Elongated (dominant-negative)</text>
<path d="M210.20 344.45 L212.95 349.95 L207.45 349.95 Z" fill="#e8e8e8" stroke="#aaa" stroke-width="0.7"/>
<circle cx="210.20" cy="348.10" r="1.5" fill="#111"/>
<path d="M210.60 354.40 L214.55 361.60 L206.65 361.60 Z" fill="#111"/>
<path d="M210.60 365.20 L214.20 372.00 L207.00 372.00 Z" fill="#b3d5e6" stroke="#7fb0c8" stroke-width="0.8"/>
<path d="M352.70 342.90 L355.30 347.00 L352.70 351.10 L350.10 347.00 Z" fill="#111" stroke="#111" stroke-width="0.6"/>
<path d="M352.70 355.10 L355.30 359.20 L352.70 363.30 L350.10 359.20 Z" fill="#d9262f" stroke="#5a1010" stroke-width="0.6"/>
<text x="434.50" y="324.30" font-size="9" text-anchor="middle" fill="#222">Mutations</text>
<line x1="395.4" y1="328.6" x2="477.8" y2="328.6" stroke="#222" stroke-width="1.2"/>
<text x="408.60" y="338.70" font-size="8.2" text-anchor="start" fill="#222">Monoallelic</text>
<text x="409.00" y="351.00" font-size="8.2" text-anchor="start" fill="#222">Biallelic</text>
<circle cx="459.00" cy="335.70" r="3.7" fill="#9eaaa6" stroke="#555" stroke-width="0.8"/>
<circle cx="459.00" cy="348.00" r="3.7" fill="#1a1218" stroke="#111" stroke-width="0.8"/>
<text x="51.20" y="440.60" font-size="11" text-anchor="start" font-weight="bold" fill="#111">GC-sensitive</text>
<text x="47.70" y="563.80" font-size="11" text-anchor="start" font-weight="bold" fill="#111">GC-resistant</text>
<text x="126.60" y="478.10" font-size="8.7" text-anchor="start" fill="#222">RUNX1</text>
<rect x="125.3" y="484.5" width="372.6" height="28.5" fill="#fff"/>
<rect x="191.1" y="484.5" width="95.4" height="28.5" fill="#f8a51b"/>
<rect x="372.6" y="484.5" width="61.2" height="28.5" fill="#a9dbee"/>
<rect x="433.8" y="484.5" width="64.1" height="28.5" fill="#1a85a6"/>
<rect x="125.3" y="484.5" width="372.6" height="28.5" fill="none" stroke="#1a1a1a" stroke-width="1.3"/>
<text x="244.60" y="502.90" font-size="10.9" text-anchor="middle" fill="#2a1800">RUNT</text>
<text x="407.70" y="502.90" font-size="10.8" text-anchor="middle" fill="#111a22">TAD</text>
<text x="470.60" y="502.90" font-size="11" text-anchor="middle" fill="#082838">Runxl</text>
<text x="127.30" y="523.30" font-size="8" text-anchor="start" fill="#222">1</text>
<text x="498.40" y="524.20" font-size="8" text-anchor="end" fill="#222">480</text>
<path d="M188.40 459.00 L211.60 468.50 L211.60 484.50" fill="none" stroke="#444" stroke-width="0.9"/>
<path d="M203.50 457.00 L229.60 471.00 L229.60 484.50" fill="none" stroke="#999" stroke-width="1.4"/>
<path d="M223.00 455.70 L230.90 468.00 L230.90 484.50" fill="none" stroke="#444" stroke-width="0.9"/>
<path d="M241.90 454.00 L250.40 462.70 L250.40 484.50" fill="none" stroke="#444" stroke-width="0.9"/>
<path d="M257.50 455.80 L250.40 462.70" fill="none" stroke="#444" stroke-width="0.9"/>
<path d="M276.50 456.00 L276.50 484.50" fill="none" stroke="#444" stroke-width="0.9"/>
<path d="M291.20 456.50 L283.50 470.40 L283.50 484.50" fill="none" stroke="#444" stroke-width="0.9"/>
<path d="M359.00 462.70 L373.00 470.40 L373.00 484.50" fill="none" stroke="#444" stroke-width="0.9"/>
<path d="M374.80 448.80 L374.80 484.50" fill="none" stroke="#444" stroke-width="0.9"/>
<path d="M420.00 466.50 L433.40 470.40 L433.40 484.50" fill="none" stroke="#444" stroke-width="0.9"/>
<path d="M434.00 460.40 L442.30 470.70 L442.30 484.50" fill="none" stroke="#444" stroke-width="0.9"/>
<path d="M453.40 441.00 L453.40 484.50" fill="none" stroke="#444" stroke-width="0.9"/>
<path d="M469.00 460.40 L459.00 470.40 L459.00 484.50" fill="none" stroke="#444" stroke-width="0.9"/>
<path d="M483.80 465.00 L475.80 470.40 L475.80 484.50" fill="none" stroke="#444" stroke-width="0.9"/>
<path d="M188.40 446.75 L191.70 453.00 L188.40 459.25 L185.10 453.00 Z" fill="#111" stroke="#111" stroke-width="0.6"/>
<path d="M208.80 445.50 L212.30 452.50 L205.30 452.50 Z" fill="#c6dfeb" stroke="#8fb8cc" stroke-width="0.7"/>
<circle cx="208.80" cy="449.90" r="1.5" fill="#111"/>
<path d="M203.50 450.70 L207.00 457.70 L200.00 457.70 Z" fill="#c6dfeb" stroke="#8fb8cc" stroke-width="0.7"/>
<circle cx="203.50" cy="455.10" r="1.5" fill="#111"/>
<path d="M223.00 443.55 L226.30 449.80 L223.00 456.05 L219.70 449.80 Z" fill="#111" stroke="#111" stroke-width="0.6"/>
<path d="M241.90 440.80 L245.20 446.80 L241.90 452.80 L238.60 446.80 Z" fill="#111" stroke="#111" stroke-width="0.6"/>
<path d="M241.90 434.25 L245.20 440.50 L241.90 446.75 L238.60 440.50 Z" fill="#111" stroke="#111" stroke-width="0.6"/>
<circle cx="241.9" cy="440.7" r="1.3" fill="#fff"/>
<path d="M259.60 449.50 L263.20 455.90 L256.00 455.90 Z" fill="#111"/>
<path d="M277.50 449.80 L280.80 455.80 L274.20 455.80 Z" fill="#fff" stroke="#111" stroke-width="1.0"/>
<circle cx="277.5" cy="454" r="1.2" fill="#111"/>
<path d="M291.50 438.00 L294.80 443.50 L291.50 449.00 L288.20 443.50 Z" fill="#111" stroke="#111" stroke-width="0.6"/>
<path d="M291.50 445.00 L294.80 450.50 L291.50 456.00 L288.20 450.50 Z" fill="#111" stroke="#111" stroke-width="0.6"/>
<path d="M358.80 449.70 L362.20 456.20 L358.80 462.70 L355.40 456.20 Z" fill="#d9262f" stroke="#6a1515" stroke-width="0.6"/>
<path d="M374.80 435.25 L378.10 442.00 L374.80 448.75 L371.50 442.00 Z" fill="#111" stroke="#111" stroke-width="0.6"/>
<path d="M419.80 453.05 L423.20 459.80 L419.80 466.55 L416.40 459.80 Z" fill="#d9262f" stroke="#6a1515" stroke-width="0.6"/>
<path d="M433.80 447.40 L437.20 453.90 L433.80 460.40 L430.40 453.90 Z" fill="#d9262f" stroke="#6a1515" stroke-width="0.6"/>
<path d="M453.40 434.10 L457.20 441.10 L449.60 441.10 Z" fill="#cfe6f1" stroke="#86b6cc" stroke-width="0.9"/>
<path d="M469.20 447.40 L472.60 453.90 L469.20 460.40 L465.80 453.90 Z" fill="#d9262f" stroke="#6a1515" stroke-width="0.6"/>
<path d="M483.80 452.75 L487.20 459.00 L483.80 465.25 L480.40 459.00 Z" fill="#d9262f" stroke="#6a1515" stroke-width="0.6"/>
<text x="190.60" y="443.80" font-size="9" text-anchor="start" fill="#1a1a1a" transform="rotate(-90 190.60000000000002 443.8)">L121fs</text>
<text x="207.80" y="440.00" font-size="9" text-anchor="start" fill="#1a1a1a" transform="rotate(-90 207.8 440.0)">S141A</text>
<text x="226.30" y="440.00" font-size="9" text-anchor="start" fill="#1a1a1a" transform="rotate(-90 226.3 440.0)">E143X</text>
<text x="247.50" y="431.00" font-size="9" text-anchor="start" fill="#1a1a1a" transform="rotate(-90 247.5 431.0)">R166X</text>
<text x="262.60" y="445.80" font-size="9" text-anchor="start" fill="#1a1a1a" transform="rotate(-90 262.6 445.8)">R166G</text>
<text x="281.10" y="445.80" font-size="9" text-anchor="start" fill="#1a1a1a" transform="rotate(-90 281.1 445.8)">D198G</text>
<text x="296.00" y="434.00" font-size="9" text-anchor="start" fill="#1a1a1a" transform="rotate(-90 296.0 434.0)">R204X</text>
<text x="362.50" y="446.50" font-size="9" text-anchor="start" fill="#1a1a1a" transform="rotate(-90 362.5 446.5)">S318fs</text>
<text x="377.80" y="432.00" font-size="9" text-anchor="start" fill="#1a1a1a" transform="rotate(-90 377.8 432.0)">R320X</text>
<text x="423.30" y="450.40" font-size="9" text-anchor="start" fill="#1a1a1a" transform="rotate(-90 423.3 450.4)">Q397fs</text>
<text x="437.10" y="445.00" font-size="9" text-anchor="start" fill="#1a1a1a" transform="rotate(-90 437.1 445.0)">Y406fs</text>
<text x="456.70" y="432.00" font-size="9" text-anchor="start" fill="#1a1a1a" transform="rotate(-90 456.7 432.0)">M418V</text>
<text x="473.30" y="443.50" font-size="9" text-anchor="start" fill="#1a1a1a" transform="rotate(-90 473.3 443.5)">P426fs</text>
<text x="487.90" y="448.00" font-size="9" text-anchor="start" fill="#1a1a1a" transform="rotate(-90 487.90000000000003 448.0)">P444fs</text>
<path d="M141.90 513.00 L141.90 526.50" fill="none" stroke="#444" stroke-width="0.9"/>
<path d="M184.70 513.00 L184.70 531.00 L167.30 545.70" fill="none" stroke="#444" stroke-width="0.9"/>
<path d="M200.20 513.00 L200.20 521.80 L180.20 547.80" fill="none" stroke="#444" stroke-width="0.9"/>
<path d="M203.80 513.00 L203.80 521.80 L191.20 547.80" fill="none" stroke="#444" stroke-width="0.9"/>
<path d="M217.90 513.00 L217.90 523.00 L209.60 529.30" fill="none" stroke="#444" stroke-width="0.9"/>
<path d="M219.40 513.00 L219.40 547.30" fill="none" stroke="#444" stroke-width="0.9"/>
<path d="M236.90 513.00 L236.90 528.80" fill="none" stroke="#444" stroke-width="0.9"/>
<path d="M244.20 513.00 L244.20 523.00 L250.80 546.80" fill="none" stroke="#444" stroke-width="0.9"/>
<path d="M247.70 513.00 L247.70 523.00 L265.40 545.70" fill="none" stroke="#444" stroke-width="0.9"/>
<path d="M248.80 513.00 L248.80 523.00 L278.50 545.70" fill="none" stroke="#444" stroke-width="0.9"/>
<path d="M255.80 513.00 L255.80 523.00 L291.00 547.20" fill="none" stroke="#444" stroke-width="0.9"/>
<path d="M263.60 513.00 L263.60 523.00 L305.40 547.20" fill="none" stroke="#444" stroke-width="0.9"/>
<path d="M265.90 513.00 L265.90 523.00 L320.40 547.20" fill="none" stroke="#444" stroke-width="0.9"/>
<path d="M276.50 513.00 L276.50 523.00 L333.80 547.20" fill="none" stroke="#444" stroke-width="0.9"/>
<path d="M285.50 513.00 L285.50 522.40 L345.40 544.80" fill="none" stroke="#444" stroke-width="0.9"/>
<path d="M141.90 526.25 L145.20 532.50 L141.90 538.75 L138.60 532.50 Z" fill="#111" stroke="#111" stroke-width="0.6"/>
<path d="M167.30 545.35 L170.60 551.60 L167.30 557.85 L164.00 551.60 Z" fill="#111" stroke="#111" stroke-width="0.6"/>
<path d="M180.00 547.90 L183.70 554.70 L176.30 554.70 Z" fill="#c4e0ed" stroke="#86b6cc" stroke-width="0.9"/>
<path d="M191.20 548.00 L194.70 554.60 L187.70 554.60 Z" fill="#c4e0ed" stroke="#86b6cc" stroke-width="0.7"/>
<circle cx="191.20" cy="552.20" r="1.5" fill="#111"/>
<path d="M195.00 553.70 L198.50 560.30 L191.50 560.30 Z" fill="#c4e0ed" stroke="#86b6cc" stroke-width="0.7"/>
<circle cx="195.00" cy="557.90" r="1.5" fill="#111"/>
<path d="M209.70 529.60 L213.40 536.40 L206.00 536.40 Z" fill="#c4e0ed" stroke="#86b6cc" stroke-width="0.9"/>
<path d="M219.50 547.80 L223.20 554.60 L215.80 554.60 Z" fill="#c4e0ed" stroke="#86b6cc" stroke-width="0.9"/>
<path d="M237.00 528.45 L240.30 534.70 L237.00 540.95 L233.70 534.70 Z" fill="#111" stroke="#111" stroke-width="0.6"/>
<path d="M250.80 547.30 L254.50 554.30 L247.10 554.30 Z" fill="#111"/>
<path d="M254.20 552.50 L257.90 559.50 L250.50 559.50 Z" fill="#111"/>
<path d="M265.40 545.75 L268.70 552.00 L265.40 558.25 L262.10 552.00 Z" fill="#111" stroke="#111" stroke-width="0.6"/>
<path d="M278.50 545.75 L281.80 552.00 L278.50 558.25 L275.20 552.00 Z" fill="#111" stroke="#111" stroke-width="0.6"/>
<path d="M291.20 547.80 L294.90 554.60 L287.50 554.60 Z" fill="#c4e0ed" stroke="#86b6cc" stroke-width="0.7"/>
<circle cx="291.20" cy="552.10" r="1.5" fill="#111"/>
<path d="M305.40 547.80 L309.10 554.60 L301.70 554.60 Z" fill="#c4e0ed" stroke="#86b6cc" stroke-width="0.9"/>
<path d="M320.40 547.80 L324.10 554.60 L316.70 554.60 Z" fill="#c4e0ed" stroke="#86b6cc" stroke-width="0.9"/>
<path d="M333.80 547.50 L337.50 554.50 L330.10 554.50 Z" fill="#111"/>
<path d="M337.30 553.50 L341.00 560.50 L333.60 560.50 Z" fill="#111"/>
<path d="M345.40 547.60 L349.10 554.40 L341.70 554.40 Z" fill="#c4e0ed" stroke="#86b6cc" stroke-width="0.9"/>
<path d="M349.20 553.60 L352.90 560.40 L345.50 560.40 Z" fill="#c4e0ed" stroke="#86b6cc" stroke-width="0.9"/>
<text x="144.50" y="542.60" font-size="9" text-anchor="end" fill="#1a1a1a" transform="rotate(-90 144.5 542.6)">Q15fs</text>
<text x="169.50" y="561.00" font-size="9" text-anchor="end" fill="#1a1a1a" transform="rotate(-90 169.5 561.0)">E80fs</text>
<text x="182.90" y="559.50" font-size="9" text-anchor="end" fill="#1a1a1a" transform="rotate(-90 182.9 559.5)">H105R</text>
<text x="198.30" y="564.00" font-size="9" text-anchor="end" fill="#1a1a1a" transform="rotate(-90 198.3 564.0)">K110Q</text>
<text x="213.00" y="538.80" font-size="9" text-anchor="end" fill="#1a1a1a" transform="rotate(-90 213.0 538.8)">V130F</text>
<text x="223.30" y="557.00" font-size="9" text-anchor="end" fill="#1a1a1a" transform="rotate(-90 223.3 557.0)">A134P</text>
<text x="239.50" y="543.40" font-size="9" text-anchor="end" fill="#1a1a1a" transform="rotate(-90 239.5 543.4)">K152fs</text>
<text x="255.30" y="564.00" font-size="9" text-anchor="end" fill="#1a1a1a" transform="rotate(-90 255.3 564.0)">R162W/S</text>
<text x="267.90" y="561.00" font-size="9" text-anchor="end" fill="#1a1a1a" transform="rotate(-90 267.90000000000003 561.0)">G165fs</text>
<text x="281.00" y="561.00" font-size="9" text-anchor="end" fill="#1a1a1a" transform="rotate(-90 281.0 561.0)">R166fs</text>
<text x="295.30" y="561.00" font-size="9" text-anchor="end" fill="#1a1a1a" transform="rotate(-90 295.3 561.0)">S172G</text>
<text x="308.50" y="561.00" font-size="9" text-anchor="end" fill="#1a1a1a" transform="rotate(-90 308.5 561.0)">T181K</text>
<text x="323.70" y="561.00" font-size="9" text-anchor="end" fill="#1a1a1a" transform="rotate(-90 323.7 561.0)">Q185R</text>
<text x="340.00" y="563.80" font-size="9" text-anchor="end" fill="#1a1a1a" transform="rotate(-90 340.0 563.8)">D198G</text>
<text x="354.10" y="562.80" font-size="9" text-anchor="end" fill="#1a1a1a" transform="rotate(-90 354.1 562.8)">R207W</text>
<path d="M451.50 513.00 L451.50 524.40" fill="none" stroke="#444" stroke-width="0.9"/>
<path d="M451.50 524.40 L455.00 531.30 L451.50 538.20 L448.00 531.30 Z" fill="#d9262f" stroke="#6a1515" stroke-width="0.6"/>
<text x="454.80" y="540.40" font-size="9" text-anchor="end" fill="#1a1a1a" transform="rotate(-90 454.8 540.4)">Q415fs</text>
<text x="1.60" y="632.30" font-size="16.5" text-anchor="start" font-weight="bold" fill="#111">C</text>
<text x="58.30" y="633.00" font-size="12.4" text-anchor="start" font-weight="bold" fill="#111">Sensitivity of group to glucocorticoid</text>
<text x="80.00" y="648.60" font-size="12.2" text-anchor="start" fill="#222">Decreased</text>
<text x="163.20" y="648.60" font-size="12.2" text-anchor="start" fill="#222">Increased</text>
<rect x="73.60" y="687.60" width="11.2" height="11.2" fill="none" stroke="#aaaaaa" stroke-width="0.9"/>
<circle cx="89.30" cy="716.30" r="6.1" fill="none" stroke="#8a8a8a" stroke-width="0.8"/>
<circle cx="94.90" cy="724.50" r="6.1" fill="none" stroke="#8a8a8a" stroke-width="0.8"/>
<circle cx="68.70" cy="750.60" r="6.1" fill="none" stroke="#8a8a8a" stroke-width="0.8"/>
<circle cx="278.60" cy="729.50" r="6.1" fill="none" stroke="#8a8a8a" stroke-width="0.8"/>
<rect x="182.40" y="744.10" width="11.2" height="11.2" fill="none" stroke="#aaaaaa" stroke-width="0.9"/>
<rect x="183.10" y="761.70" width="11.2" height="11.2" fill="none" stroke="#aaaaaa" stroke-width="0.9"/>
<rect x="191.70" y="773.20" width="11.2" height="11.2" fill="none" stroke="#aaaaaa" stroke-width="0.9"/>
<rect x="222.00" y="761.70" width="11.2" height="11.2" fill="none" stroke="#aaaaaa" stroke-width="0.9"/>
<circle cx="210.30" cy="772.20" r="6.1" fill="none" stroke="#8a8a8a" stroke-width="0.8"/>
<rect x="193.40" y="721.40" width="11.2" height="11.2" fill="none" stroke="#aaaaaa" stroke-width="0.9"/>
<rect x="160.20" y="766.40" width="11.2" height="11.2" fill="none" stroke="#aaaaaa" stroke-width="0.9"/>
<circle cx="93.50" cy="762.20" r="6.1" fill="none" stroke="#8a8a8a" stroke-width="0.8"/>
<circle cx="93.50" cy="772.40" r="6.1" fill="none" stroke="#8a8a8a" stroke-width="0.8"/>
<circle cx="98.50" cy="772.60" r="6.1" fill="none" stroke="#8a8a8a" stroke-width="0.8"/>
<circle cx="101.00" cy="770.00" r="6.1" fill="none" stroke="#8a8a8a" stroke-width="0.8"/>
<rect x="105.40" y="754.90" width="11.2" height="11.2" fill="none" stroke="#888" stroke-width="0.8"/>
<rect x="105.90" y="758.40" width="11.2" height="11.2" fill="none" stroke="#888" stroke-width="0.8"/>
<rect x="104.90" y="761.90" width="11.2" height="11.2" fill="none" stroke="#888" stroke-width="0.8"/>
<rect x="106.40" y="765.40" width="11.2" height="11.2" fill="none" stroke="#888" stroke-width="0.8"/>
<rect x="105.40" y="769.40" width="11.2" height="11.2" fill="none" stroke="#888" stroke-width="0.8"/>
<rect x="106.90" y="773.40" width="11.2" height="11.2" fill="none" stroke="#888" stroke-width="0.8"/>
<rect x="101.40" y="765.40" width="11.2" height="11.2" fill="none" stroke="#888" stroke-width="0.8"/>
<path d="M121.00 761.40 L128.60 769.00 L121.00 776.60 L113.40 769.00 Z" fill="none" stroke="#777" stroke-width="0.8"/>
<path d="M124.00 765.40 L131.60 773.00 L124.00 780.60 L116.40 773.00 Z" fill="none" stroke="#777" stroke-width="0.8"/>
<path d="M127.00 768.90 L134.60 776.50 L127.00 784.10 L119.40 776.50 Z" fill="none" stroke="#777" stroke-width="0.8"/>
<path d="M130.00 772.40 L137.60 780.00 L130.00 787.60 L122.40 780.00 Z" fill="none" stroke="#777" stroke-width="0.8"/>
<path d="M133.00 776.40 L140.60 784.00 L133.00 791.60 L125.40 784.00 Z" fill="none" stroke="#777" stroke-width="0.8"/>
<path d="M136.00 779.90 L143.60 787.50 L136.00 795.10 L128.40 787.50 Z" fill="none" stroke="#777" stroke-width="0.8"/>
<path d="M139.00 782.40 L146.60 790.00 L139.00 797.60 L131.40 790.00 Z" fill="none" stroke="#777" stroke-width="0.8"/>
<path d="M126.00 762.40 L133.60 770.00 L126.00 777.60 L118.40 770.00 Z" fill="none" stroke="#777" stroke-width="0.8"/>
<path d="M129.50 766.90 L137.10 774.50 L129.50 782.10 L121.90 774.50 Z" fill="none" stroke="#777" stroke-width="0.8"/>
<path d="M118.00 768.40 L125.60 776.00 L118.00 783.60 L110.40 776.00 Z" fill="none" stroke="#777" stroke-width="0.8"/>
<path d="M123.00 772.40 L130.60 780.00 L123.00 787.60 L115.40 780.00 Z" fill="none" stroke="#777" stroke-width="0.8"/>
<circle cx="122.50" cy="788.00" r="6.1" fill="none" stroke="#777" stroke-width="0.8"/>
<circle cx="129.00" cy="791.00" r="6.1" fill="none" stroke="#777" stroke-width="0.8"/>
<circle cx="117.00" cy="783.00" r="6.1" fill="none" stroke="#777" stroke-width="0.8"/>
<circle cx="133.00" cy="793.00" r="6.1" fill="none" stroke="#777" stroke-width="0.8"/>
<path d="M175.20 768.40 L182.80 776.00 L175.20 783.60 L167.60 776.00 Z" fill="none" stroke="#555" stroke-width="0.8"/>
<path d="M175.50 774.40 L183.10 782.00 L175.50 789.60 L167.90 782.00 Z" fill="none" stroke="#555" stroke-width="0.8"/>
<path d="M171.00 778.40 L178.60 786.00 L171.00 793.60 L163.40 786.00 Z" fill="none" stroke="#555" stroke-width="0.8"/>
<path d="M168.00 773.40 L175.60 781.00 L168.00 788.60 L160.40 781.00 Z" fill="none" stroke="#555" stroke-width="0.8"/>
<rect x="150.40" y="777.40" width="11.2" height="11.2" fill="none" stroke="#666" stroke-width="0.8"/>
<rect x="144.40" y="780.40" width="11.2" height="11.2" fill="none" stroke="#666" stroke-width="0.8"/>
<rect x="155.40" y="782.40" width="11.2" height="11.2" fill="none" stroke="#666" stroke-width="0.8"/>
<circle cx="173.50" cy="790.00" r="6.1" fill="none" stroke="#444" stroke-width="0.8"/>
<circle cx="176.00" cy="787.00" r="6.1" fill="none" stroke="#444" stroke-width="0.8"/>
<circle cx="170.00" cy="792.00" r="6.1" fill="none" stroke="#444" stroke-width="0.8"/>
<circle cx="178.00" cy="791.00" r="6.1" fill="none" stroke="#444" stroke-width="0.8"/>
<circle cx="166.00" cy="790.00" r="6.1" fill="none" stroke="#444" stroke-width="0.8"/>
<circle cx="180.00" cy="784.00" r="6.1" fill="none" stroke="#444" stroke-width="0.8"/>
<circle cx="138.00" cy="792.00" r="6.1" fill="none" stroke="#333" stroke-width="0.75"/>
<circle cx="143.00" cy="790.00" r="6.1" fill="none" stroke="#333" stroke-width="0.75"/>
<circle cx="147.00" cy="794.00" r="6.1" fill="none" stroke="#333" stroke-width="0.75"/>
<circle cx="150.00" cy="789.00" r="6.1" fill="none" stroke="#333" stroke-width="0.75"/>
<circle cx="154.00" cy="793.00" r="6.1" fill="none" stroke="#333" stroke-width="0.75"/>
<circle cx="158.00" cy="790.00" r="6.1" fill="none" stroke="#333" stroke-width="0.75"/>
<circle cx="162.00" cy="794.00" r="6.1" fill="none" stroke="#333" stroke-width="0.75"/>
<circle cx="145.00" cy="786.00" r="6.1" fill="none" stroke="#333" stroke-width="0.75"/>
<circle cx="140.00" cy="797.00" r="6.1" fill="none" stroke="#333" stroke-width="0.75"/>
<circle cx="152.00" cy="796.00" r="6.1" fill="none" stroke="#333" stroke-width="0.75"/>
<circle cx="160.00" cy="797.00" r="6.1" fill="none" stroke="#333" stroke-width="0.75"/>
<circle cx="157.00" cy="786.00" r="6.1" fill="none" stroke="#333" stroke-width="0.75"/>
<rect x="138.40" y="782.40" width="11.2" height="11.2" fill="none" stroke="#3a3a3a" stroke-width="0.75"/>
<rect x="144.40" y="785.40" width="11.2" height="11.2" fill="none" stroke="#3a3a3a" stroke-width="0.75"/>
<rect x="154.40" y="782.40" width="11.2" height="11.2" fill="none" stroke="#3a3a3a" stroke-width="0.75"/>
<rect x="158.40" y="785.40" width="11.2" height="11.2" fill="none" stroke="#3a3a3a" stroke-width="0.75"/>
<rect x="142.40" y="779.40" width="11.2" height="11.2" fill="none" stroke="#3a3a3a" stroke-width="0.75"/>
<rect x="147.40" y="791.40" width="11.2" height="11.2" fill="none" stroke="#3a3a3a" stroke-width="0.75"/>
<rect x="134.40" y="788.40" width="11.2" height="11.2" fill="none" stroke="#3a3a3a" stroke-width="0.75"/>
<rect x="140.40" y="789.40" width="11.2" height="11.2" fill="none" stroke="#3a3a3a" stroke-width="0.75"/>
<path d="M135.00 782.40 L142.60 790.00 L135.00 797.60 L127.40 790.00 Z" fill="none" stroke="#333" stroke-width="0.75"/>
<path d="M141.00 780.40 L148.60 788.00 L141.00 795.60 L133.40 788.00 Z" fill="none" stroke="#333" stroke-width="0.75"/>
<path d="M146.00 784.40 L153.60 792.00 L146.00 799.60 L138.40 792.00 Z" fill="none" stroke="#333" stroke-width="0.75"/>
<path d="M155.00 782.40 L162.60 790.00 L155.00 797.60 L147.40 790.00 Z" fill="none" stroke="#333" stroke-width="0.75"/>
<path d="M163.00 778.40 L170.60 786.00 L163.00 793.60 L155.40 786.00 Z" fill="none" stroke="#333" stroke-width="0.75"/>
<path d="M150.00 787.40 L157.60 795.00 L150.00 802.60 L142.40 795.00 Z" fill="none" stroke="#333" stroke-width="0.75"/>
<path d="M158.00 786.40 L165.60 794.00 L158.00 801.60 L150.40 794.00 Z" fill="none" stroke="#333" stroke-width="0.75"/>
<path d="M139.00 787.40 L146.60 795.00 L139.00 802.60 L131.40 795.00 Z" fill="none" stroke="#333" stroke-width="0.75"/>
<path d="M143.00 788.40 L150.60 796.00 L143.00 803.60 L135.40 796.00 Z" fill="none" stroke="#333" stroke-width="0.75"/>
<line x1="58.4" y1="654.4" x2="58.4" y2="803.1" stroke="#333" stroke-width="1.2"/>
<line x1="57.8" y1="802.5" x2="283.8" y2="802.5" stroke="#333" stroke-width="1.2"/>
<line x1="55.9" y1="678.80" x2="58.4" y2="678.80" stroke="#333" stroke-width="1"/>
<text x="53.8" y="681.30" font-size="9.2" text-anchor="end" fill="#222">10<tspan font-size="5.6" dy="-3.6">-3</tspan></text>
<line x1="55.9" y1="718.20" x2="58.4" y2="718.20" stroke="#333" stroke-width="1"/>
<text x="53.8" y="720.70" font-size="9.2" text-anchor="end" fill="#222">10<tspan font-size="5.6" dy="-3.6">-2</tspan></text>
<line x1="55.9" y1="757.60" x2="58.4" y2="757.60" stroke="#333" stroke-width="1"/>
<text x="53.8" y="760.10" font-size="9.2" text-anchor="end" fill="#222">10<tspan font-size="5.6" dy="-3.6">-1</tspan></text>
<line x1="55.9" y1="797" x2="58.4" y2="797" stroke="#333" stroke-width="1"/>
<text x="51.40" y="800.40" font-size="9.5" text-anchor="end" fill="#222">1</text>
<line x1="95.55" y1="802.5" x2="95.55" y2="805.0" stroke="#333" stroke-width="1"/>
<text x="95.55" y="815.50" font-size="9.7" text-anchor="middle" fill="#222">−2,500</text>
<line x1="145.90" y1="802.5" x2="145.90" y2="805.0" stroke="#333" stroke-width="1"/>
<text x="145.90" y="815.50" font-size="9.7" text-anchor="middle" fill="#222">0</text>
<line x1="196.25" y1="802.5" x2="196.25" y2="805.0" stroke="#333" stroke-width="1"/>
<text x="196.25" y="815.50" font-size="9.7" text-anchor="middle" fill="#222">2,500</text>
<line x1="246.60" y1="802.5" x2="246.60" y2="805.0" stroke="#333" stroke-width="1"/>
<text x="246.60" y="815.50" font-size="9.7" text-anchor="middle" fill="#222">5,000</text>
<text x="171" y="832.2" font-size="12.2" text-anchor="middle" fill="#222">Average IC<tspan font-size="7.8" dy="3.4">50</tspan><tspan dy="-3.4"> difference</tspan></text>
<text x="30.60" y="732.40" font-size="10" text-anchor="middle" font-style="italic" fill="#222" transform="rotate(-90 30.6 732.4)">P</text>
<line x1="58.4" y1="744.8" x2="283.8" y2="744.8" stroke="#222" stroke-width="1.2" stroke-dasharray="2 2"/>
<line x1="145.9" y1="654" x2="145.9" y2="802.5" stroke="#222" stroke-width="1.2" stroke-dasharray="2 2"/>
<text x="289" y="748.2" font-size="10" fill="#222"><tspan font-style="italic">P</tspan> = 0.05</text>
<path d="M214.20 657.40 L221.80 665.00 L214.20 672.60 L206.60 665.00 Z" fill="#3c3c3c"/>
<path d="M190.50 707.80 L198.50 715.80 L190.50 723.80 L182.50 715.80 Z" fill="#4bb3cc"/>
<circle cx="197.00" cy="738.00" r="6.4" fill="#e05858"/>
<rect x="205.90" y="705.90" width="10.8" height="10.8" fill="#3c3c3c"/>
<rect x="217.40" y="698.40" width="11.2" height="11.2" fill="#4bb3cc"/>
<rect x="217.80" y="708.60" width="10.4" height="10.4" fill="#fff" stroke="#bbb" stroke-width="0.9"/>
<rect x="217.30" y="717.30" width="10.6" height="10.6" fill="#e05858"/>
<circle cx="210.30" cy="721.50" r="6.4" fill="#4bb3cc"/>
<circle cx="222.00" cy="735.00" r="6.4" fill="#3c3c3c"/>
<text x="350.60" y="673.00" font-size="9" text-anchor="start" font-weight="bold" fill="#111">Genetic group</text>
<rect x="350.40" y="680.80" width="6.2" height="8.4" rx="2.9" fill="#2e2e2e"/>
<rect x="350.40" y="697.10" width="6.2" height="8.4" rx="2.9" fill="#4bb3cc"/>
<rect x="350.40" y="712.00" width="6.2" height="8.4" rx="2.9" fill="#e05858"/>
<text x="362.00" y="687.40" font-size="8.8" text-anchor="start" fill="#222">SRSF2</text>
<text x="362" y="704.2" font-size="8.8" fill="#222">RUNX1<tspan font-size="5.3" dy="-3.2">fs/ns</tspan></text>
<text x="361.2" y="720.4" font-size="8.8" fill="#222">CEBPA<tspan font-size="5.3" dy="-3.2">bi</tspan></text>
<text x="347.10" y="765.30" font-size="9" text-anchor="start" font-weight="bold" fill="#111">Compound</text>
<circle cx="350.90" cy="778.00" r="5.7" fill="none" stroke="#999" stroke-width="0.9"/>
<rect x="345.70" y="789.20" width="10.6" height="10.6" fill="none" stroke="#999" stroke-width="0.9"/>
<path d="M350.90 804.30 L358.00 811.40 L350.90 818.50 L343.80 811.40 Z" fill="none" stroke="#999" stroke-width="0.9"/>
<text x="365.9" y="781.2" font-size="9.1" fill="#222">Dexamethasone (<tspan font-style="italic">n</tspan> = 86)</text>
<text x="365.9" y="797.7" font-size="9.1" fill="#222">Flumethasone (<tspan font-style="italic">n</tspan> = 234)</text>
<text x="363.8" y="814.6" font-size="9.1" fill="#222">Hydrocortisone (<tspan font-style="italic">n</tspan> = 56)</text>
</svg>
</body></html>
